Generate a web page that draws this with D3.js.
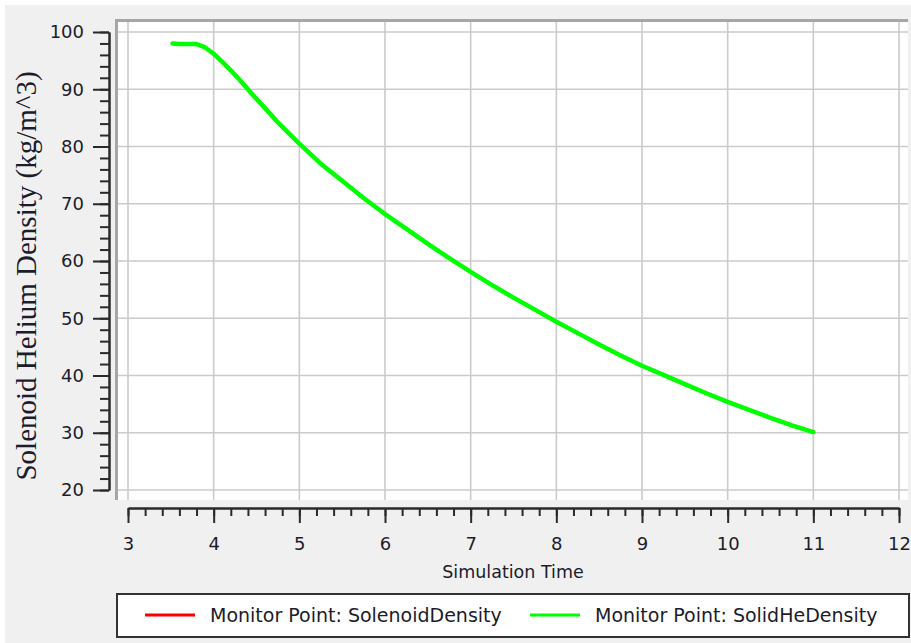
<!DOCTYPE html>
<html>
<head>
<meta charset="utf-8">
<script src="https://cdn.jsdelivr.net/npm/d3@7"></script>
<style>
  html, body { margin: 0; padding: 0; background: #fff; }
  svg { display: block; }
  .tick text { font-family: "DejaVu Sans", sans-serif; fill: #1c1c2c; }
</style>
</head>
<body>
<svg></svg>
<script>
// simulation time and density
var simTime = [3.52, 3.6, 3.7, 3.8, 3.9, 4.0, 4.1, 4.2, 4.3, 4.4, 4.5, 4.6, 4.75, 5.0, 5.25, 5.5, 5.75,
               6.0, 6.25, 6.5, 6.75, 7.0, 7.25, 7.5, 7.75, 8.0, 8.25, 8.5, 8.75, 9.0, 9.25, 9.5, 9.75,
               10.0, 10.25, 10.5, 10.75, 11.0];
var solidHeDensity = [98.0, 97.9, 97.9, 97.9, 97.3, 96.2, 94.8, 93.3, 91.7, 90.0, 88.3, 86.7, 84.2, 80.5, 77.0, 74.0, 71.0,
                      68.2, 65.6, 63.0, 60.5, 58.1, 55.8, 53.6, 51.5, 49.4, 47.4, 45.4, 43.5, 41.7, 40.1, 38.5, 36.9,
                      35.4, 34.0, 32.6, 31.3, 30.1];
// red series sits right under the green one
var solenoidDensity = solidHeDensity;

var xTicks = [3, 4, 5, 6, 7, 8, 9, 10, 11, 12];
var yTicks = [20, 30, 40, 50, 60, 70, 80, 90, 100];
var seriesNames = ["Monitor Point: SolenoidDensity", "Monitor Point: SolidHeDensity"];
var seriesColors = ["#ff0000", "#00ff00"];
var xTitle = "Simulation Time";
var yTitle = "Solenoid Helium Density (kg/m^3)";

var width = 911;
var height = 643;

var svg = d3.select("svg")
  .attr("width", width)
  .attr("height", height);

// grey panel
svg.append("rect").attr("x", 5).attr("y", 5).attr("width", width - 5).attr("height", height - 5)
  .attr("fill", "#f0f0f0");

// plot area
var plot = { left: 118, top: 22, right: 908, bottom: 500 };
svg.append("rect")
  .attr("x", plot.left).attr("y", plot.top)
  .attr("width", plot.right - plot.left).attr("height", plot.bottom - plot.top)
  .attr("fill", "#fff");

var x = d3.scaleLinear().domain([3, 12]).range([128, 899]);
var y = d3.scaleLinear().domain([20, 100]).range([490, 32]);

// grid
svg.append("g").selectAll("line")
  .data(xTicks).enter().append("line")
    .attr("x1", d => x(d)).attr("x2", d => x(d))
    .attr("y1", plot.top).attr("y2", plot.bottom)
    .attr("stroke", "#cbcbcb").attr("stroke-width", 1.6);
svg.append("g").selectAll("line")
  .data(yTicks).enter().append("line")
    .attr("x1", plot.left).attr("x2", plot.right)
    .attr("y1", d => y(d)).attr("y2", d => y(d))
    .attr("stroke", "#cbcbcb").attr("stroke-width", 1.6);

// inset border, top and left
svg.append("path")
  .attr("d", `M${plot.left - 1.5},${plot.bottom} V${plot.top - 1.5} H${plot.right}`)
  .attr("fill", "none").attr("stroke", "#a6a6a6").attr("stroke-width", 3);

// y axis
var yMinor = d3.range(20, 100.1, 2);
var yAxisG = svg.append("g").attr("transform", "translate(109,0)");
yAxisG.call(d3.axisLeft(y).tickValues(yMinor).tickSize(9).tickSizeOuter(0).tickFormat(""));
yAxisG.append("g").call(d3.axisLeft(y).tickValues(yTicks).tickSize(16).tickSizeOuter(0).tickPadding(9));
yAxisG.selectAll("path, line").attr("stroke", "#2a2a2a").attr("stroke-width", 2);
yAxisG.selectAll("text").style("font-size", "18px");

// x axis
var xMinor = d3.range(3, 12.01, 0.2);
var xAxisG = svg.append("g").attr("transform", "translate(0,508)");
xAxisG.call(d3.axisBottom(x).tickValues(xMinor).tickSize(8).tickSizeOuter(0).tickFormat(""));
xAxisG.append("g").call(d3.axisBottom(x).tickValues(xTicks).tickSize(15).tickSizeOuter(0).tickPadding(14));
xAxisG.selectAll("path, line").attr("stroke", "#2a2a2a").attr("stroke-width", 2);
xAxisG.selectAll("text").style("font-size", "18px");

// titles
svg.append("text")
  .attr("x", 513).attr("y", 578)
  .attr("text-anchor", "middle")
  .style("font-family", "DejaVu Sans, sans-serif").style("font-size", "17.5px")
  .attr("fill", "#1c1c2c")
  .text(xTitle);

svg.append("text")
  .attr("transform", "translate(36,276) rotate(-90)")
  .attr("text-anchor", "middle")
  .style("font-family", "Liberation Serif, serif").style("font-size", "29px")
  .attr("fill", "#1c1c2c")
  .text(yTitle);

// series
var line = d3.line()
  .x(d => x(d[0]))
  .y(d => y(d[1]));

svg.append("path")
  .datum(simTime.map((t, i) => [t, solenoidDensity[i]]))
  .attr("d", line)
  .attr("fill", "none").attr("stroke", seriesColors[0]).attr("stroke-width", 3);

svg.append("path")
  .datum(simTime.map((t, i) => [t, solidHeDensity[i]]))
  .attr("d", line)
  .attr("fill", "none").attr("stroke", seriesColors[1]).attr("stroke-width", 4.5)
  .attr("stroke-linejoin", "round").attr("stroke-linecap", "round");

// legend
var legend = svg.append("g");
legend.append("rect")
  .attr("x", 117).attr("y", 594).attr("width", 792).attr("height", 43)
  .attr("fill", "#fff").attr("stroke", "#333").attr("stroke-width", 2);

var legendX = [145, 530];
var items = legend.selectAll("g.item")
  .data(seriesNames).enter().append("g")
  .attr("transform", (d, i) => `translate(${legendX[i]},615)`);
items.append("line")
  .attr("x1", 0).attr("x2", 50).attr("y1", 0).attr("y2", 0)
  .attr("stroke", (d, i) => seriesColors[i]).attr("stroke-width", 3);
items.append("text")
  .attr("x", 65).attr("y", 7)
  .style("font-family", "DejaVu Sans, sans-serif").style("font-size", "19px")
  .attr("fill", "#1c1c2c")
  .text(d => d);
</script>
</body>
</html>
